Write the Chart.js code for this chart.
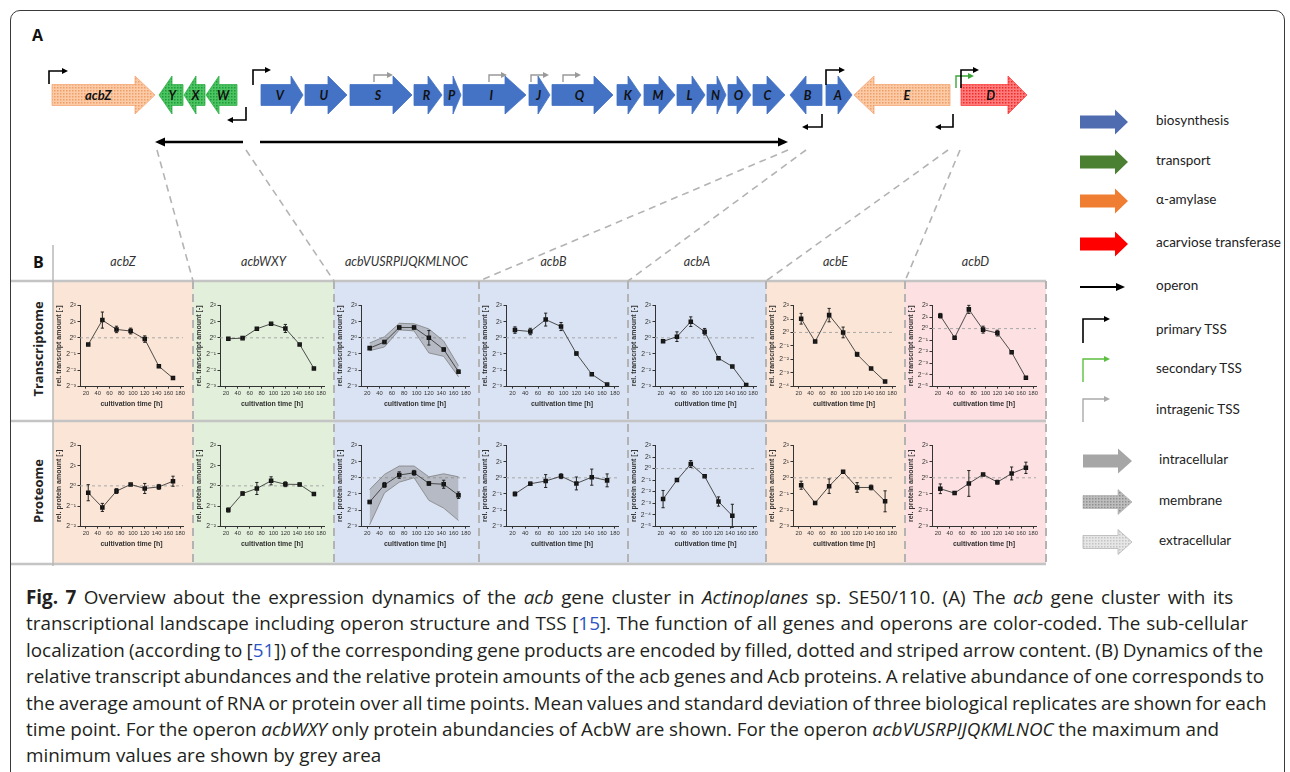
<!DOCTYPE html>
<html><head><meta charset="utf-8">
<script src="https://cdn.jsdelivr.net/npm/chart.js@4.4.0/dist/chart.umd.min.js"></script>
<style>
html,body{margin:0;padding:0;background:#fff}
body{width:1290px;height:772px;overflow:hidden;position:relative;font-family:'Open Sans',sans-serif}
#frame{position:absolute;left:10px;top:10px;width:1275px;height:800px;border:1.5px solid #3a3a3a;border-radius:10px;box-sizing:border-box}
#fig{position:absolute;left:0;top:0}
.cell{position:absolute}
.cap{position:absolute;left:26px;white-space:nowrap;color:#231f20;font-family:'Open Sans',sans-serif;font-size:16px;line-height:26px}
.cap a{color:#2b55c4;text-decoration:none}
.hdr{position:absolute;top:254px;font-family:Lato,sans-serif;font-style:italic;font-size:12.5px;color:#333;text-align:center}
.lbl{position:absolute;font-family:Lato,sans-serif;font-size:13.5px;color:#222;white-space:nowrap}
.rowlab{position:absolute;font-family:'Open Sans',sans-serif;font-weight:bold;font-size:13px;color:#222;transform:rotate(-90deg);transform-origin:center;white-space:nowrap;text-align:center;width:120px}
.panel{position:absolute;font-family:'Open Sans',sans-serif;font-weight:bold;font-size:16px;color:#111}
</style></head>
<body>
<div id="frame"></div>
<svg id="fig" width="1290" height="772" xmlns="http://www.w3.org/2000/svg"></svg>
<div id="cells"></div>
<div class="panel" style="left:32px;top:24px">A</div>
<div class="panel" style="left:33px;top:251px">B</div>
<div id="caption"></div>
<script>
// ===================== DATA =====================
const timePoints = [24, 48, 72, 96, 120, 144, 168];
const xTickValues = [20, 40, 60, 80, 100, 120, 140, 160, 180];
const geneGroups = ['acbZ', 'acbWXY', 'acbVUSRPIJQKMLNOC', 'acbB', 'acbA', 'acbE', 'acbD'];
const rowLabels = ['Transcriptome', 'Proteome'];
const legendItems = ['biosynthesis', 'transport', '\u03b1-amylase', 'acarviose transferase', 'operon',
  'primary TSS', 'secondary TSS', 'intragenic TSS', 'intracellular', 'membrane', 'extracellular'];

// Transcriptome: log2 of relative transcript amount (mean, sd)
const trZ = [-0.42, 1.1, 0.52, 0.42, -0.08, -1.77, -2.5];
const trZErr = [0.05, 0.5, 0.2, 0.18, 0.2, 0.05, 0.05];
const trWXY = [-0.06, -0.02, 0.56, 0.87, 0.58, -0.41, -1.9];
const trWXYErr = [0.05, 0.08, 0.05, 0.08, 0.25, 0.05, 0.05];
const trVUS = [-0.64, -0.26, 0.64, 0.64, 0.0, -0.72, -2.1];
const trVUSErr = [0.05, 0.1, 0.1, 0.1, 0.45, 0.1, 0.1];
const trVUSMax = [-0.32, 0.06, 0.9, 0.87, 0.55, -0.2, -1.74];
const trVUSMin = [-0.8, -0.57, 0.49, 0.43, -0.94, -1.15, -2.42];
const trB = [0.48, 0.39, 1.13, 0.7, -0.98, -2.26, -2.9];
const trBErr = [0.2, 0.2, 0.4, 0.25, 0.1, 0.05, 0.05];
const trA = [-0.22, 0.07, 1.0, 0.38, -1.27, -1.78, -2.93];
const trAErr = [0.05, 0.3, 0.3, 0.2, 0.05, 0.05, 0.05];
const trE = [1.02, -0.68, 1.29, 0.0, -1.63, -2.68, -3.66];
const trEErr = [0.4, 0.05, 0.5, 0.4, 0.15, 0.05, 0.05];
const trD = [1.12, -0.79, 1.67, -0.09, -0.39, -2.06, -4.27];
const trDErr = [0.2, 0.05, 0.35, 0.3, 0.25, 0.05, 0.05];

// Proteome: log2 of relative protein amount (mean, sd)
const prZ = [-0.34, -1.07, -0.26, 0.07, -0.13, -0.05, 0.23];
const prZErr = [0.4, 0.2, 0.12, 0.05, 0.25, 0.12, 0.25];
const prWXY = [-1.2, -0.38, -0.13, 0.25, 0.08, 0.07, -0.4];
const prWXYErr = [0.1, 0.08, 0.3, 0.2, 0.12, 0.07, 0.05];
const prVUS = [-1.5, -0.44, 0.17, 0.31, -0.35, -0.4, -1.08];
const prVUSErr = [0.1, 0.15, 0.2, 0.15, 0.12, 0.25, 0.2];
const prVUSMax = [-0.73, 0.21, 0.73, 0.73, 0.06, 0.25, 0.06];
const prVUSMin = [-2.92, -0.94, -0.27, 0.0, -1.4, -1.88, -2.65];
const prB = [-1.0, -0.37, -0.2, 0.1, -0.35, 0.04, -0.16];
const prBErr = [0.12, 0.1, 0.4, 0.15, 0.4, 0.5, 0.4];
const prA = [-2.65, -1.0, 0.4, -0.67, -2.86, -4.1];
const prAErr = [0.75, 0.05, 0.3, 0.1, 0.4, 1.0];
const prE = [-0.46, -1.56, -0.52, 0.37, -0.6, -0.6, -1.46];
const prEErr = [0.25, 0.08, 0.45, 0.05, 0.3, 0.15, 0.65];
const prD = [-0.68, -0.95, -0.35, 0.21, -0.27, 0.27, 0.62];
const prDErr = [0.3, 0.05, 0.8, 0.07, 0.12, 0.4, 0.35];

// y-axis ranges (log2 exponents of tick labels)
const trYRange = [[-3, 2], [-3, 2], [-3, 2], [-3, 2], [-3, 2], [-4, 2], [-5, 2]];
const prYRange = [[-2, 2], [-2, 2], [-3, 2], [-3, 2], [-5, 2], [-3, 2], [-3, 2]];

const transcriptSeries = [
  {mean: trZ, err: trZErr}, {mean: trWXY, err: trWXYErr},
  {mean: trVUS, err: trVUSErr, upper: trVUSMax, lower: trVUSMin},
  {mean: trB, err: trBErr}, {mean: trA, err: trAErr}, {mean: trE, err: trEErr}, {mean: trD, err: trDErr}];
const proteinSeries = [
  {mean: prZ, err: prZErr}, {mean: prWXY, err: prWXYErr},
  {mean: prVUS, err: prVUSErr, upper: prVUSMax, lower: prVUSMin},
  {mean: prB, err: prBErr}, {mean: prA, err: prAErr}, {mean: prE, err: prEErr}, {mean: prD, err: prDErr}];

// ===================== LAYOUT =====================
const colEdges = [53, 193, 334, 479, 628, 766, 905, 1046];
const rowEdges = [281, 421, 564];
const colBg = ['#fbe5d6', '#e2efda', '#dae3f3', '#dae3f3', '#dae3f3', '#fbe5d6', '#fde1e2'];

const svg = document.getElementById('fig');
let s = `<defs>
<pattern id="pOrange" width="3" height="3" patternUnits="userSpaceOnUse"><rect width="3" height="3" fill="#fbcaa6"/><rect width="1.5" height="1.5" fill="#f19d66"/></pattern>
<pattern id="pGreen" width="3" height="3" patternUnits="userSpaceOnUse"><rect width="3" height="3" fill="#4cc461"/><rect width="1.5" height="1.5" fill="#1d9a3a"/></pattern>
<pattern id="pRed" width="3" height="3" patternUnits="userSpaceOnUse"><rect width="3" height="3" fill="#ff7b7b"/><rect width="1.5" height="1.5" fill="#ee2a2a"/></pattern>
<pattern id="pGrayM" width="3" height="3" patternUnits="userSpaceOnUse"><rect width="3" height="3" fill="#bdbdbd"/><rect width="1.5" height="1.5" fill="#8f8f8f"/></pattern>
<pattern id="pGrayE" width="3" height="3" patternUnits="userSpaceOnUse"><rect width="3" height="3" fill="#e6e6e6"/><rect width="1.5" height="1.5" fill="#c4c4c4"/></pattern>
</defs>`;

for (let c = 0; c < 7; c++) {
  s += `<rect x="${colEdges[c]}" y="${rowEdges[0]}" width="${colEdges[c+1]-colEdges[c]}" height="${rowEdges[2]-rowEdges[0]}" fill="${colBg[c]}"/>`;
}
rowEdges.forEach(y => { s += `<line x1="11" y1="${y}" x2="1046" y2="${y}" stroke="#c4c4c4" stroke-width="2.5"/>`; });
s += `<line x1="53" y1="245" x2="53" y2="566" stroke="#b8b8b8" stroke-width="1.5"/>`;
for (let c = 1; c < 8; c++) {
  s += `<line x1="${colEdges[c]}" y1="${rowEdges[0]}" x2="${colEdges[c]}" y2="${rowEdges[2]+3}" stroke="#b3b3b3" stroke-width="2" stroke-dasharray="8,5"/>`;
}
const connectors = [[157,150,193,281],[246,150,334,281],[788,150,479,281],[806,150,628,281],[948,150,766,281],[960,150,905,281]];
connectors.forEach(l => { s += `<line x1="${l[0]}" y1="${l[1]}" x2="${l[2]}" y2="${l[3]}" stroke="#b3b3b3" stroke-width="1.6" stroke-dasharray="7,5"/>`; });

function arrowPath(dir, a, b, c, cy, bh, hh) {
  if (dir === 'R') return `M${a},${cy-bh} L${b},${cy-bh} L${b},${cy-hh} L${c},${cy} L${b},${cy+hh} L${b},${cy+bh} L${a},${cy+bh} Z`;
  return `M${c},${cy-bh} L${b},${cy-bh} L${b},${cy-hh} L${a},${cy} L${b},${cy+hh} L${b},${cy+bh} L${c},${cy+bh} Z`;
}
const BLUE = '#4472c4';
const geneArrows = [
  ['acbZ','R',52,135,155,'url(#pOrange)','#f5a878'],
  ['Y','L',159,172,183,'url(#pGreen)','#35b04c'],
  ['X','L',184,196,205,'url(#pGreen)','#35b04c'],
  ['W','L',206,219,237,'url(#pGreen)','#35b04c'],
  ['V','R',261,291,303,BLUE,BLUE],['U','R',305,328,347,BLUE,BLUE],['S','R',350,393,412,BLUE,BLUE],
  ['R','R',414,428,442,BLUE,BLUE],['P','R',444,453,461,BLUE,BLUE],['I','R',463,505,526,BLUE,BLUE],
  ['J','R',529,538,550,BLUE,BLUE],['Q','R',552,594,613,BLUE,BLUE],['K','R',617,628,641,BLUE,BLUE],
  ['M','R',644,659,675,BLUE,BLUE],['L','R',677,692,705,BLUE,BLUE],['N','R',707,717,726,BLUE,BLUE],
  ['O','R',728,737,751,BLUE,BLUE],['C','R',753,767,785,BLUE,BLUE],
  ['B','L',790,806,822,BLUE,BLUE],['A','R',826,838,852,BLUE,BLUE],
  ['E','L',854,874,950,'url(#pOrange)','#f5a878'],
  ['D','R',961,1008,1027,'url(#pRed)','#ff4040']
];
geneArrows.forEach(g => {
  const [name, dir, a, b, c, fill, stroke] = g;
  s += `<path d="${arrowPath(dir,a,b,c,95,10.5,19)}" fill="${fill}" stroke="${stroke}" stroke-width="0.8"/>`;
  const lx = dir === 'R' ? a + 0.45*(c-a) : a + 0.55*(c-a);
  s += `<text x="${lx}" y="99.5" text-anchor="middle" font-family="Lato, sans-serif" font-style="italic" font-weight="bold" font-size="${name.length>1?13:12.5}" fill="#111">${name}</text>`;
});
function bent(x, y1, y2, x2, col, w) {
  const d = x2 > x ? 1 : -1;
  let r = `<polyline points="${x},${y1} ${x},${y2} ${x2-d*3},${y2}" fill="none" stroke="${col}" stroke-width="${w}"/>`;
  r += `<polygon points="${x2+d*2},${y2} ${x2-d*4},${y2-3} ${x2-d*4},${y2+3}" fill="${col}"/>`;
  return r;
}
const tssMarks = [
  [49,84,71,66,'#000',1.6],[253,85,70,269,'#000',1.6],[246,107,120,229,'#000',1.6],
  [374,82,75,391,'#999',1.4],[489,82,75,505,'#999',1.4],[531,82,75,547,'#999',1.4],[563,82,75,579,'#999',1.4],
  [822,114,127,804,'#000',1.6],[826,85,70,843,'#000',1.6],[953,114,127,937,'#000',1.6],
  [956,88,76,972,'#3aa63a',1.4],[961,88,70,977,'#000',1.6]
];
tssMarks.forEach(t => { s += bent(...t); });
s += `<line x1="243" y1="142" x2="163" y2="142" stroke="#000" stroke-width="2.6"/><polygon points="155,142 165,137.5 165,146.5" fill="#000"/>`;
s += `<line x1="260" y1="142" x2="780" y2="142" stroke="#000" stroke-width="2.6"/><polygon points="788,142 778,137.5 778,146.5" fill="#000"/>`;

const legY = [122, 162, 201, 244, 287, 331, 370, 411, 461, 502, 542];
const legFill = ['#4f6cb0','#4b7f31','#ef7e32','#ff0000'];
for (let i = 0; i < 4; i++) s += `<path d="${arrowPath('R',1080,1115,1128,legY[i],6.5,12.5)}" fill="${legFill[i]}"/>`;
s += `<line x1="1080" y1="287" x2="1118" y2="287" stroke="#000" stroke-width="2.2"/><polygon points="1125,287 1116,283 1116,291" fill="#000"/>`;
s += bent(1083, 343, 319, 1108, '#000', 1.6);
s += bent(1083, 382, 359, 1108, '#5cbf40', 1.4);
s += bent(1083, 422, 399, 1108, '#aaa', 1.4);
s += `<path d="${arrowPath('R',1083,1118,1132,461,6.5,12.5)}" fill="#a6a6a6"/>`;
s += `<path d="${arrowPath('R',1083,1118,1132,502,6.5,12.5)}" fill="url(#pGrayM)" stroke="#aaa" stroke-width="0.6"/>`;
s += `<path d="${arrowPath('R',1083,1118,1132,542,6.5,12.5)}" fill="url(#pGrayE)" stroke="#b5b5b5" stroke-width="0.8"/>`;
svg.innerHTML = s;

legendItems.forEach((t, i) => {
  const d = document.createElement('div');
  d.className = 'lbl';
  d.style.left = (i >= 8 ? 1159 : 1156) + 'px';
  d.style.top = (legY[i] - 10) + 'px';
  d.textContent = t;
  document.body.appendChild(d);
});
geneGroups.forEach((g, c) => {
  const d = document.createElement('div');
  d.className = 'hdr';
  d.style.left = colEdges[c] + 'px';
  d.style.width = (colEdges[c+1] - colEdges[c]) + 'px';
  d.textContent = g;
  document.body.appendChild(d);
});
rowLabels.forEach((t, r) => {
  const d = document.createElement('div');
  d.className = 'rowlab';
  const cy = (rowEdges[r] + rowEdges[r+1]) / 2 - 2;
  d.style.left = (38 - 60) + 'px';
  d.style.top = (cy - 9) + 'px';
  d.textContent = t;
  document.body.appendChild(d);
});

// ===================== CHARTS =====================
Chart.defaults.font.family = "'Liberation Sans', 'DejaVu Sans', sans-serif";
const supMap = {'-':'\u207b','0':'\u2070','1':'\u00b9','2':'\u00b2','3':'\u00b3','4':'\u2074','5':'\u2075','6':'\u2076'};
const pow2Label = v => '2' + String(v).split('').map(ch => supMap[ch] || ch).join('');

const errorBars = {
  id: 'errorBars',
  afterDatasetsDraw(chart) {
    const ctx = chart.ctx, ys = chart.scales.y;
    chart.data.datasets.forEach((ds, i) => {
      if (!ds.errors) return;
      const meta = chart.getDatasetMeta(i);
      ctx.save();
      ctx.strokeStyle = '#222';
      ctx.lineWidth = 1;
      meta.data.forEach((pt, j) => {
        const e = ds.errors[j];
        if (!e) return;
        const v = ds.data[j].y;
        const y1 = ys.getPixelForValue(v + e), y2 = ys.getPixelForValue(v - e);
        ctx.beginPath();
        ctx.moveTo(pt.x, y1); ctx.lineTo(pt.x, y2);
        ctx.moveTo(pt.x - 1.6, y1); ctx.lineTo(pt.x + 1.6, y1);
        ctx.moveTo(pt.x - 1.6, y2); ctx.lineTo(pt.x + 1.6, y2);
        ctx.stroke();
      });
      ctx.restore();
    });
  }
};

function makeChart(parent, series, yRange, yTitle) {
  const canvas = document.createElement('canvas');
  parent.appendChild(canvas);
  const toPts = arr => arr.map((v, i) => ({x: timePoints[i], y: v}));
  const datasets = [{
    data: toPts(series.mean), errors: series.err, borderColor: '#3a3a3a', borderWidth: 0.9,
    pointStyle: 'rect', pointRadius: 3.2, pointBackgroundColor: '#111', pointBorderColor: '#111',
    pointBorderWidth: 0, fill: false, tension: 0, order: 0
  }];
  if (series.upper) {
    datasets.push({data: toPts(series.upper), borderColor: '#808080', borderWidth: 0.8, pointRadius: 0, fill: false, order: 1});
    datasets.push({data: toPts(series.lower), borderColor: '#808080', borderWidth: 0.8, pointRadius: 0,
      fill: '-1', backgroundColor: 'rgba(120,120,120,0.38)', order: 2});
  }
  datasets.push({data: [{x: 10, y: 0}, {x: 185, y: 0}], borderColor: '#a8a8a8', borderWidth: 1,
    borderDash: [3, 3], pointRadius: 0, fill: false, order: 5});
  const yTicks = [];
  for (let v = yRange[0]; v <= yRange[1]; v++) yTicks.push(v);
  new Chart(canvas, {
    type: 'line',
    data: {datasets},
    plugins: [errorBars],
    options: {
      responsive: true, maintainAspectRatio: false, animation: false,
      events: [],
      plugins: {legend: {display: false}, tooltip: {enabled: false}},
      layout: {padding: 0},
      scales: {
        x: {
          type: 'linear', min: 10, max: 185,
          afterBuildTicks: sc => { sc.ticks = xTickValues.map(v => ({value: v})); },
          grid: {display: true, drawOnChartArea: false, tickLength: 2.5, color: '#333'},
          border: {display: true, color: '#333', width: 1},
          ticks: {font: {size: 5.8}, color: '#333', padding: 1.5, maxRotation: 0, autoSkip: false},
          title: {display: true, text: 'cultivation time [h]', font: {size: 7, weight: 'bold'}, color: '#333', padding: {top: 1, bottom: 0}}
        },
        y: {
          type: 'linear', min: yRange[0], max: yRange[1],
          afterBuildTicks: sc => { sc.ticks = yTicks.map(v => ({value: v})); },
          afterFit: sc => { sc.width = 25; },
          grid: {display: true, drawOnChartArea: false, tickLength: 2.5, color: '#333'},
          border: {display: true, color: '#333', width: 1},
          ticks: {font: {size: 6.8}, color: '#333', padding: 1.5, autoSkip: false, callback: v => pow2Label(v)},
          title: {display: true, text: yTitle, font: {size: 7, weight: 'bold'}, color: '#333', padding: {top: 0, bottom: 1}}
        }
      }
    }
  });
}

const cellsDiv = document.getElementById('cells');
[transcriptSeries, proteinSeries].forEach((rowSeries, r) => {
  const ranges = r === 0 ? trYRange : prYRange;
  const title = r === 0 ? 'rel. transcript amount [-]' : 'rel. protein amount [-]';
  rowSeries.forEach((ser, c) => {
    const d = document.createElement('div');
    d.className = 'cell';
    d.style.left = (colEdges[c] + 2) + 'px';
    d.style.top = (rowEdges[r] + 19) + 'px';
    d.style.width = (colEdges[c+1] - colEdges[c] - 8) + 'px';
    d.style.height = '108px';
    cellsDiv.appendChild(d);
    makeChart(d, ser, ranges[c], title);
  });
});

// ===================== CAPTION =====================
const captionLines = [
  '<b>Fig. 7</b> Overview about the expression dynamics of the <i>acb</i> gene cluster in <i>Actinoplanes</i> sp. SE50/110. (A) The <i>acb</i> gene cluster with its',
  'transcriptional landscape including operon structure and TSS [<a>15</a>]. The function of all genes and operons are color-coded. The sub-cellular',
  'localization (according to [<a>51</a>]) of the corresponding gene products are encoded by filled, dotted and striped arrow content. (B) Dynamics of the',
  'relative transcript abundances and the relative protein amounts of the acb genes and Acb proteins. A relative abundance of one corresponds to',
  'the average amount of RNA or protein over all time points. Mean values and standard deviation of three biological replicates are shown for each',
  'time point. For the operon <i>acbWXY</i> only protein abundancies of AcbW are shown. For the operon <i>acbVUSRPIJQKMLNOC</i> the maximum and',
  'minimum values are shown by grey area'
];
const captionRight = [1244, 1248, 1263, 1248, 1263, 1219, 422];
const capDivs = captionLines.map((h, i) => {
  const d = document.createElement('div');
  d.className = 'cap';
  d.style.top = (584 + i * 26.4) + 'px';
  d.innerHTML = h;
  document.body.appendChild(d);
  return d;
});
let ratioSum = 0;
for (let i = 0; i < 6; i++) ratioSum += (captionRight[i] - 26) / capDivs[i].getBoundingClientRect().width;
const fs = 16 * ratioSum / 6;
capDivs.forEach(d => { d.style.fontSize = fs + 'px'; });
capDivs.forEach((d, i) => {
  if (i === 6) return;
  const w = d.getBoundingClientRect().width;
  const spaces = (d.textContent.match(/ /g) || []).length;
  let ws = ((captionRight[i] - 26) - w) / spaces;
  ws = Math.max(-1, Math.min(2.5, ws));
  d.style.wordSpacing = ws + 'px';
});
</script>
</body></html>
